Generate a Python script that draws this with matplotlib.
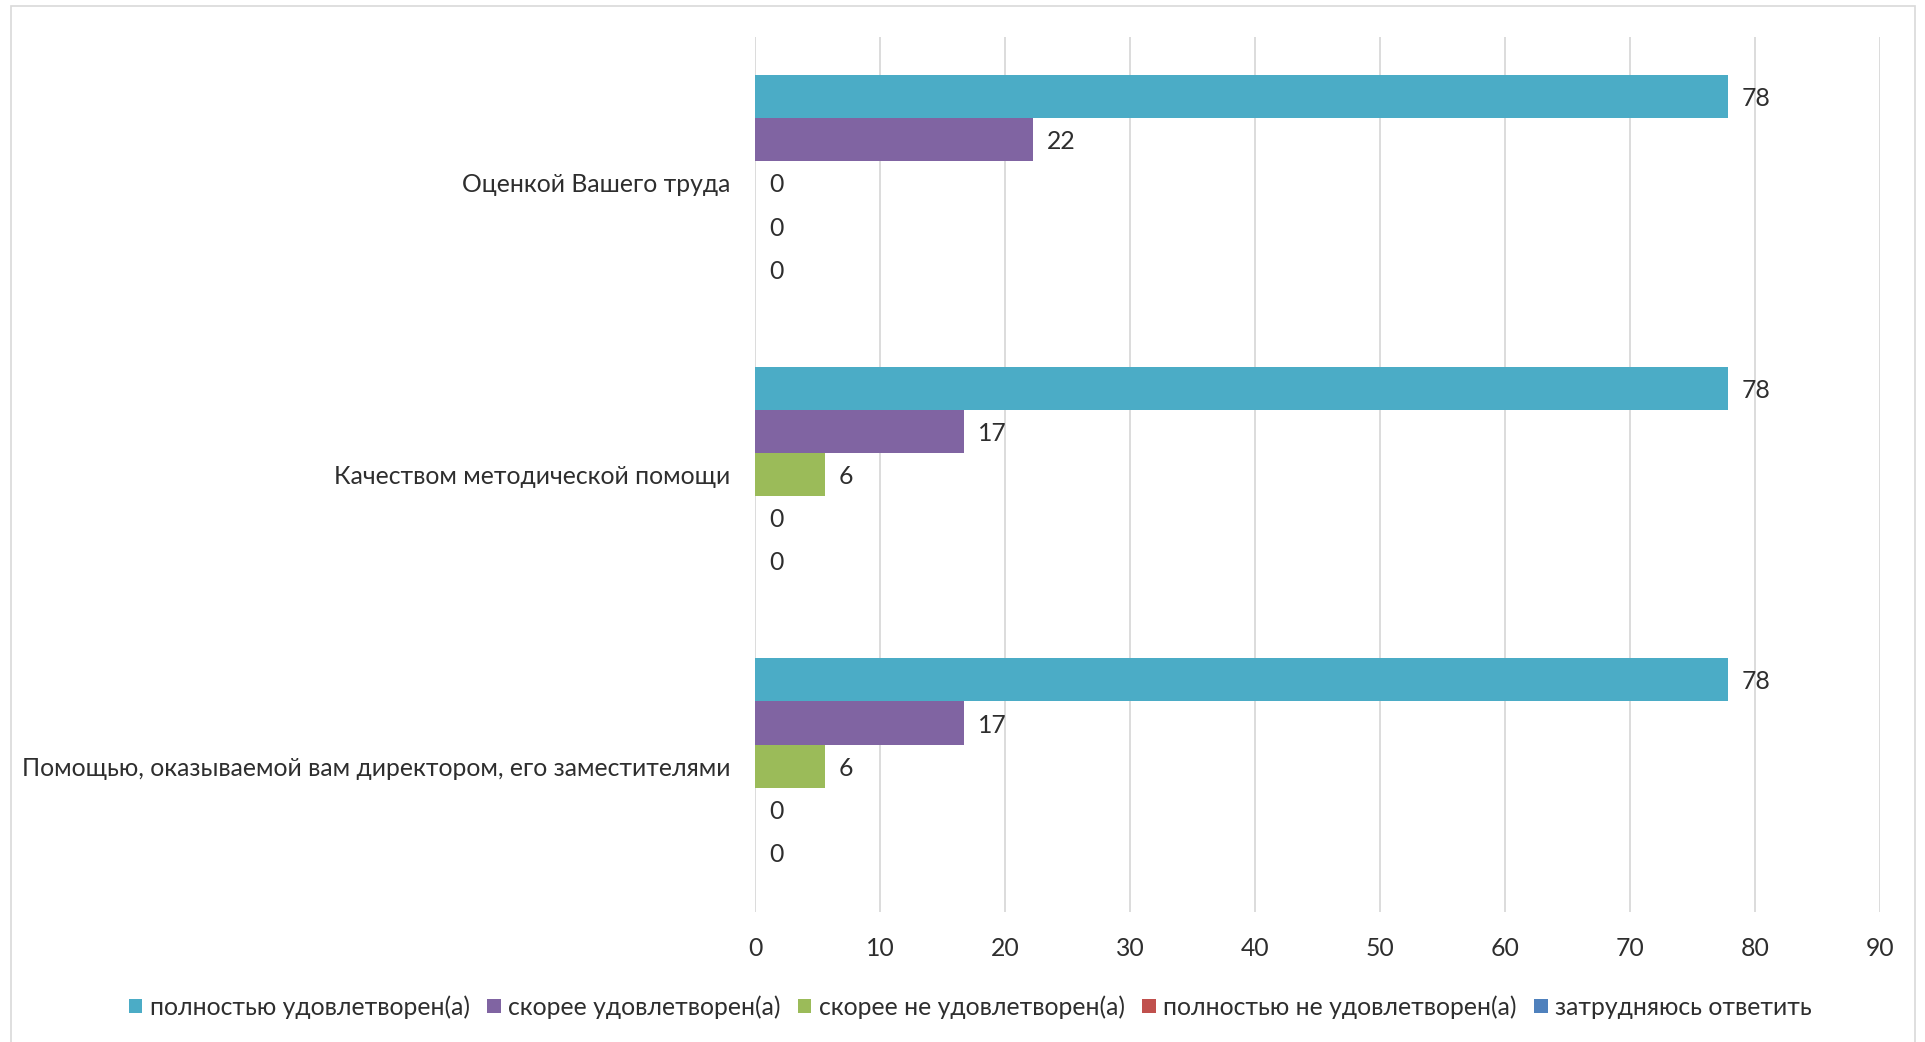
import matplotlib
matplotlib.use("Agg")
import matplotlib.pyplot as plt
from matplotlib.patches import Rectangle
import numpy as np

categories = ["Оценкой Вашего труда",
              "Качеством методической помощи",
              "Помощью, оказываемой вам директором, его заместителями"]
series_names = ["полностью удовлетворен(а)", "скорее удовлетворен(а)",
                "скорее не удовлетворен(а)", "полностью не удовлетворен(а)",
                "затрудняюсь ответить"]
values = [
    [77.8, 77.8, 77.8],   # полностью удовлетворен(а)
    [22.2, 16.7, 16.7],   # скорее удовлетворен(а)
    [0, 5.6, 5.6],        # скорее не удовлетворен(а)
    [0, 0, 0],            # полностью не удовлетворен(а)
    [0, 0, 0],            # затрудняюсь ответить
]
colors = ["#4BACC6", "#8064A2", "#9BBB59", "#C0504D", "#4F81BD"]
xticks = [0, 10, 20, 30, 40, 50, 60, 70, 80, 90]

plt.rcParams['font.family'] = ['Lato', 'DejaVu Sans']
text_color = "#2E2E2E"
fs = 17.8

W, H = 1925, 1042
fig = plt.figure(figsize=(W / 100, H / 100), dpi=100)
fig.patch.set_facecolor("white")

# outer chart frame
fig.add_artist(Rectangle((11 / W, -0.05), (1915 - 11) / W, 1.05 - 6 / H,
                         transform=fig.transFigure, fill=False,
                         edgecolor="#D9D9D9", linewidth=1.2))

ax = fig.add_axes([755 / W, 1 - 912 / H, (1880 - 755) / W, (912 - 37) / H])

n_cat = len(categories)
n_ser = len(series_names)
pos = np.arange(n_cat)[::-1].astype(float)
h = 0.148
for i in range(n_ser):
    y = pos + (2 - i) * h
    ax.barh(y, values[i], height=h, color=colors[i],
            label=series_names[i], zorder=3)
    for yy, v in zip(y, values[i]):
        ax.annotate(f"{v:.0f}", xy=(v, yy), xytext=(10, -1.5),
                    textcoords="offset points", va="center", ha="left",
                    fontsize=fs, color=text_color, zorder=4)

ax.set_xlim(0, 90)
ax.set_ylim(-0.5, n_cat - 0.5)
ax.set_xticks(xticks)
ax.set_xticklabels([str(t) for t in xticks])
ax.set_yticks(pos)
ax.set_yticklabels(categories)
ax.tick_params(axis="x", length=0, pad=18, labelsize=fs, colors=text_color)
ax.tick_params(axis="y", length=0, pad=18, labelsize=fs, colors=text_color)
for s in ax.spines.values():
    s.set_visible(False)
ax.grid(axis="x", color="#D9D9D9", linewidth=1.3, zorder=0)
ax.set_axisbelow(True)

leg = fig.legend(loc="center", bbox_to_anchor=(0.504, 1 - 1007 / H), ncol=5,
                 frameon=False, fontsize=fs, handlelength=0.55,
                 handleheight=0.55, handletextpad=0.3, columnspacing=0.7)
for t in leg.get_texts():
    t.set_color(text_color)

fig.savefig("out.png", dpi=100, facecolor="white")
